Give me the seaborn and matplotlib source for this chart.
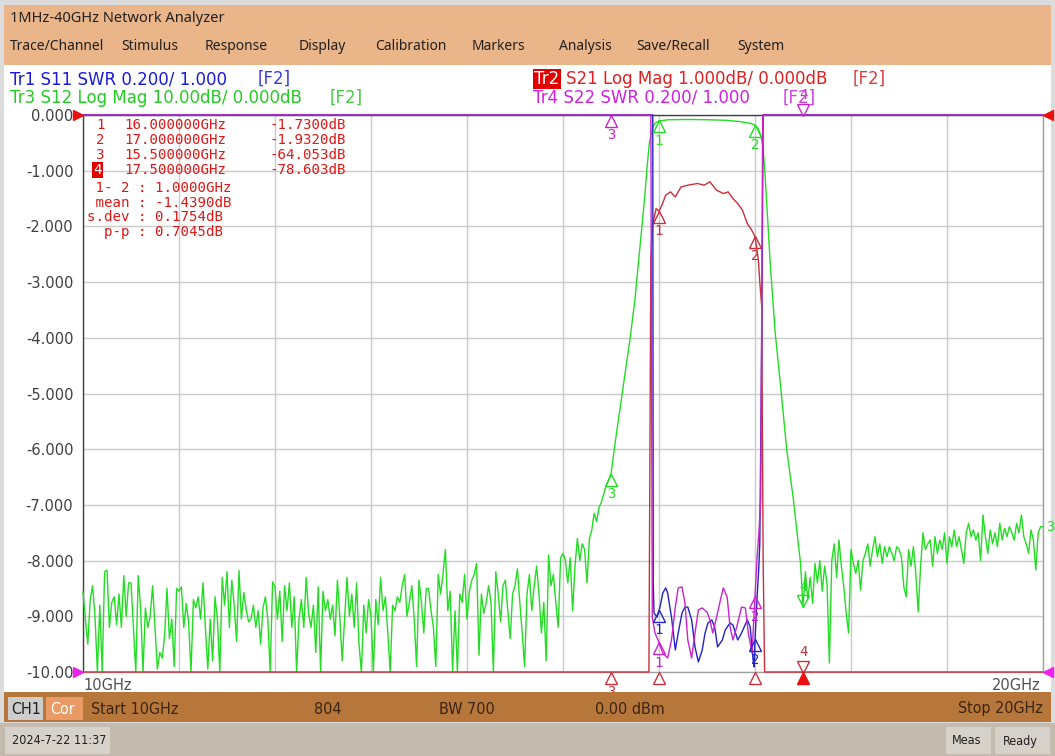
import numpy as np
import pandas as pd
import matplotlib
matplotlib.use("Agg")
import matplotlib.pyplot as plt
from matplotlib import font_manager as fm
from matplotlib.patches import Rectangle
from matplotlib.transforms import offset_copy
import seaborn as sns

sns.set_style("white")
plt.rcParams['font.family'] = ['DejaVu Sans']

# S12 noise floor, 10.000 .. 14.975 GHz, 25 MHz steps (dB)
noise_lo_db = [
    -85.6, -90.5, -95, -87, -84.5, -90, -100, -88, -101, -82,
    -81.7, -92, -87.5, -86.5, -91.5, -86, -92, -82.7, -90, -84,
    -84, -92, -101, -82.7, -88.5, -102, -88.5, -92, -90, -84.5,
    -92, -99.5, -96.5, -97.5, -93.5, -85, -94, -90.5, -99, -85,
    -85.5, -84.7, -92, -87.7, -91, -101, -87, -88.5, -86.5, -90.5,
    -84, -92, -99.5, -90.5, -98, -86.5, -90.5, -102, -83, -88,
    -82, -92, -83.5, -88, -94.5, -81.8, -90.5, -85.7, -88.8, -91,
    -90.5, -88, -92, -89, -95, -88.5, -86.5, -90.5, -102, -83.8,
    -84.7, -90.5, -85.5, -94.5, -84.5, -89, -84, -92, -86.5, -101,
    -90.5, -87, -92, -83, -89.5, -92, -88, -96.5, -84.7, -101,
    -85.5, -89, -87, -90.5, -88, -93.5, -83.5, -90, -98, -90.5,
    -83, -90, -86, -92, -84, -95, -100, -88, -93, -87,
    -90, -101, -87, -91.5, -83, -89, -86.5, -93, -101, -88,
    -89, -86.5, -87.5, -84.5, -82.5, -90, -87.5, -84.5, -90.5, -99,
    -83.5, -87.5, -93, -85, -85, -89, -92, -99, -82.5, -86,
    -82.5, -78, -89, -85.5, -101, -89, -101, -86, -87.5, -82.5,
    -90.5, -85.5, -83.5, -82.5, -80.5, -97, -86, -89.5, -87.5, -84.5,
    -87.5, -101, -82, -86, -91, -84.5, -83.5, -89, -94, -86,
    -84.5, -81.5, -87.5, -93, -99, -86, -82.5, -89, -84.5, -81,
    -86, -93, -87.5, -98, -79, -84.5, -82.5, -87.5, -92, -79.5,
]
noise_lo_freq = np.linspace(10.0, 14.975, len(noise_lo_db))

# S12 skirts and passband (GHz, dB)
edge_freq = [15.0, 15.025, 15.05, 15.075, 15.1, 15.125, 15.15, 15.175, 15.2, 15.225,
             15.25, 15.275, 15.3, 15.325, 15.35, 15.375, 15.4, 15.45, 15.5, 15.55,
             15.6, 15.65, 15.7, 15.75, 15.8, 15.85, 15.875, 15.9, 15.925, 15.95,
             16.0, 16.1, 16.3, 16.5, 16.7, 16.85, 16.95, 17.0, 17.03, 17.06,
             17.08, 17.1, 17.12, 17.16, 17.21, 17.28, 17.33, 17.4, 17.45, 17.475]
edge_db = [-78.7, -80, -84, -79.5, -89, -81, -76, -80, -77, -78,
           -84, -76, -74.5, -71.5, -73, -70.5, -69.5, -66.5, -64.5, -58,
           -52, -46, -40, -33, -24, -15, -9.5, -5, -2.8, -1.6,
           -1.05, -0.85, -0.8, -0.85, -0.95, -1.2, -1.5, -1.8, -2.4, -3.6,
           -5.5, -9.3, -15.3, -27, -39, -51, -60, -69, -76.9, -80.5]

# S12 upper stopband, 17.500 .. 20.000 GHz, 25 MHz steps (dB)
noise_hi_db = [
    -88.3, -82, -87, -83, -87.7, -80.5, -84, -80, -85.5, -81,
    -84, -98.4, -80, -77, -83, -76.3, -81, -84.7, -89.5, -93,
    -78, -80.5, -82.3, -80, -85.3, -80, -78.7, -77, -81, -78,
    -75.7, -79.3, -77, -80.5, -77.5, -79.3, -77.5, -78.7, -80, -77.5,
    -78, -79.3, -84.7, -86.5, -78, -81, -77.5, -82.3, -89.2, -81,
    -75, -78, -77, -76.3, -81, -75.7, -78.7, -76.3, -78, -75,
    -80.5, -75.7, -77.5, -74.5, -77.5, -75.7, -78, -80.5, -75, -73.3,
    -75.7, -74.5, -76.3, -75, -80, -71.8, -75.7, -78.7, -74.5, -77,
    -75, -77.5, -73.3, -76.3, -74.2, -75.7, -73.9, -75, -76.3, -73.3,
    -75, -71.8, -75.7, -77, -78.7, -74.5, -76.3, -81.7, -75, -73.9,
    -74,
]
noise_hi_freq = np.linspace(17.5, 20.0, len(noise_hi_db))

# S21 (GHz, dB)
s21_freq = [10.0, 15.5, 15.85, 15.895, 15.915, 15.93, 15.97, 16.0, 16.03, 16.07,
            16.12, 16.17, 16.23, 16.3, 16.4, 16.47, 16.53, 16.6, 16.67, 16.72,
            16.77, 16.82, 16.87, 16.92, 16.96, 17.0, 17.035, 17.05, 17.07, 17.085,
            17.1, 17.5, 20.0]
s21_db = [-95, -64.05, -25, -11, -2.54, -2.0, -1.68, -1.73, -1.62, -1.44,
          -1.38, -1.47, -1.29, -1.26, -1.23, -1.26, -1.2, -1.35, -1.41, -1.38,
          -1.5, -1.59, -1.71, -1.95, -2.05, -2.18, -2.6, -3.0, -3.44, -8,
          -14, -78.6, -75]

# S11 SWR
s11_freq = [10.0, 15.935, 15.94, 15.948, 15.98, 16.01, 16.04, 16.07, 16.09, 16.13,
            16.17, 16.2, 16.24, 16.27, 16.3, 16.34, 16.375, 16.41, 16.45, 16.48,
            16.51, 16.55, 16.58, 16.61, 16.66, 16.69, 16.74, 16.77, 16.82, 16.86,
            16.92, 16.95, 16.98, 16.99, 17.0, 17.02, 17.04, 17.05, 17.07, 17.085,
            20.0]
s11_swr = [12, 12, 1.323, 1.212, 1.197, 1.233, 1.284, 1.302, 1.284, 1.197,
           1.079, 1.140, 1.212, 1.233, 1.233, 1.187, 1.090, 1.036, 1.079, 1.140,
           1.176, 1.187, 1.162, 1.090, 1.115, 1.151, 1.176, 1.169, 1.115, 1.140,
           1.187, 1.162, 1.043, 1.018, 1.115, 1.259, 1.377, 1.463, 2.2, 12,
           12]

# S22 SWR
s22_freq = [10.0, 15.915, 15.93, 15.958, 15.99, 16.04, 16.09, 16.13, 16.17, 16.2,
            16.24, 16.27, 16.3, 16.34, 16.375, 16.41, 16.45, 16.5, 16.53, 16.56,
            16.6, 16.64, 16.67, 16.71, 16.74, 16.77, 16.81, 16.86, 16.9, 16.93,
            16.97, 16.98, 17.02, 17.04, 17.06, 17.08, 20.0]
s22_swr = [12, 12, 1.197, 1.140, 1.115, 1.068, 1.050, 1.115, 1.233, 1.302,
           1.305, 1.248, 1.115, 1.050, 1.140, 1.223, 1.230, 1.215, 1.187, 1.140,
           1.197, 1.259, 1.302, 1.269, 1.162, 1.115, 1.162, 1.233, 1.230, 1.140,
           1.068, 1.140, 1.402, 1.499, 1.618, 12, 12]

marker_freq = [16.0, 17.0, 15.5, 17.5]
marker_rows = [("1", "16.000000GHz", "-1.7300dB"),
               ("2", "17.000000GHz", "-1.9320dB"),
               ("3", "15.500000GHz", "-64.053dB"),
               ("4", "17.500000GHz", "-78.603dB")]
stats_rows = [" 1- 2 : 1.0000GHz", " mean : -1.4390dB", "s.dev : 0.1754dB", "  p-p : 0.7045dB"]
ytick_labels = ["-10.00"] + ["%.3f" % v for v in range(-9, 1)]
menu_items = [("Trace/Channel", 10), ("Stimulus", 121), ("Response", 205), ("Display", 299),
              ("Calibration", 375), ("Markers", 472), ("Analysis", 559),
              ("Save/Recall", 636), ("System", 737)]

GREEN, RED, BLUE, MAG = "#22dd22", "#c8303c", "#2222c8", "#cc22cc"

W, H = 1055, 756
fig = plt.figure(figsize=(W / 100, H / 100), dpi=100)
fig.patch.set_facecolor("#dcdcdc")


def fx(x):
    return x / W


def fy(y):
    return 1 - y / H


def box(x0, y0, x1, y1, color, z=-1):
    fig.add_artist(Rectangle((fx(x0), fy(y1)), (x1 - x0) / W, (y1 - y0) / H,
                             transform=fig.transFigure, facecolor=color,
                             edgecolor="none", zorder=z))


def label(x, y, s, **kw):
    kw.setdefault("va", "center")
    fig.text(fx(x), fy(y), s, **kw)


# pick the narrowest regular sans face available for the status bars
def narrow_font(size):
    faces = fm.fontManager.ttflist
    for want in ("Liberation Sans Narrow", "DejaVu Sans"):
        for f in faces:
            if f.name == want and f.style == "normal" and f.weight in (400, "normal") \
                    and (want.endswith("Narrow") or "condensed" in str(f.stretch)):
                return fm.FontProperties(fname=f.fname, size=size)
    return fm.FontProperties(family="Liberation Sans", size=size)


# window chrome
box(4, 5, 1051, 65, "#ebb58a")
box(4, 65, 1051, 692, "white")
box(4, 692, 1051, 722, "#b8773a", z=5)
box(8, 697, 43, 720, "#cdcdcd", z=6)
box(46, 697, 83, 720, "#ea9a64", z=6)
box(0, 723, 1055, 756, "#c3bcae", z=5)
box(5, 727, 110, 754, "#d6d2ca", z=6)
box(946, 727, 991, 754, "#d6d2ca", z=6)
box(995, 727, 1050, 754, "#d6d2ca", z=6)

ui = ["Noto Sans", "DejaVu Sans"]
label(10, 19, "1MHz-40GHz Network Analyzer", family=ui, fontsize=10.5, color="#202020")
for name, x in menu_items:
    label(x, 46, name, family=ui, fontsize=10, color="#202020")

hdr = dict(fontsize=12)
label(10, 79, "Tr1 S11 SWR 0.200/ 1.000", color="#1a1adb", **hdr)
label(258, 79, "[F2]", color="#3a3ae0", **hdr)
label(10, 98, "Tr3 S12 Log Mag 10.00dB/ 0.000dB", color="#22cc22", **hdr)
label(330, 98, "[F2]", color="#44cc44", **hdr)
label(534, 79, "Tr2", color="white", bbox=dict(facecolor="#e00000", edgecolor="none", pad=1.0), **hdr)
label(566, 79, "S21 Log Mag 1.000dB/ 0.000dB", color="#e02020", **hdr)
label(853, 79, "[F2]", color="#d84040", **hdr)
label(533, 98, "Tr4 S22 SWR 0.200/ 1.000", color="#d020e0", **hdr)
label(783, 98, "[F2]", color="#d040e0", **hdr)

sbf = narrow_font(11.5)
bbf = narrow_font(9)
sb = dict(fontproperties=sbf, color="#3a2414", zorder=7)
bb = dict(fontproperties=bbf, color="#202020", zorder=7)
label(11, 709, "CH1", **{**sb, "color": "#202020"})
label(50, 709, "Cor", **{**sb, "color": "white"})
label(91, 709, "Start 10GHz", **sb)
label(314, 709, "804", **sb)
label(439, 709, "BW 700", **sb)
label(595, 709, "0.00 dBm", **sb)
label(1043, 709, "Stop 20GHz", ha="right", **sb)
label(12, 741, "2024-7-22 11:37", **bb)
label(952, 741, "Meas", **bb)
label(1003, 741, "Ready", **bb)

# plot area
ax = fig.add_axes([fx(83), fy(672), (1043 - 83) / W, (672 - 115) / H])
ax.set_facecolor("white")
ax.set_xlim(10, 20)
ax.set_ylim(-10, 0)
ax.set_xticks(np.linspace(10, 20, 11))
ax.set_xticklabels([])
ax.set_yticks(np.arange(-10, 1, 1))
ax.set_yticklabels(ytick_labels)
ax.tick_params(axis="both", length=0)
ax.tick_params(axis="y", pad=7, labelsize=10.5, labelcolor="#404040")
ax.grid(True, color="#cbcbcb", lw=1)
ax.set_axisbelow(True)
for side, c in [("left", "#404040"), ("top", "#404040"), ("right", "#a0a0a0"), ("bottom", "#a0a0a0")]:
    ax.spines[side].set_color(c)
    ax.spines[side].set_linewidth(1)
ax.text(0.0, -0.024, "10GHz", transform=ax.transAxes, ha="left", va="center", fontsize=10.5, color="#505050")
ax.text(0.997, -0.024, "20GHz", transform=ax.transAxes, ha="right", va="center", fontsize=10.5, color="#505050")

# traces, converted to screen divisions and clamped like the analyzer does
s12_freq = np.concatenate([noise_lo_freq, edge_freq, noise_hi_freq])
s12_db = np.concatenate([noise_lo_db, edge_db, noise_hi_db])
traces = {
    "S12": (s12_freq, np.asarray(s12_db) / 10.0, GREEN),
    "S21": (np.asarray(s21_freq), np.asarray(s21_db), RED),
    "S11": (np.asarray(s11_freq), (np.asarray(s11_swr) - 1) / 0.2 - 10, BLUE),
    "S22": (np.asarray(s22_freq), (np.asarray(s22_swr) - 1) / 0.2 - 10, MAG),
}
for name, (f, d, c) in traces.items():
    df = pd.DataFrame({"freq": f, "div": np.clip(d, -10, 0)})
    sns.lineplot(data=df, x="freq", y="div", ax=ax, color=c, lw=1.0,
                 estimator=None, sort=False, clip_on=False, zorder=3)
ax.set_xlabel("")
ax.set_ylabel("")


def value_at(name, f):
    fr, d, _ = traces[name]
    return float(np.clip(np.interp(f, fr, d), -10, 0))


def tri(f, v, color, num=None, up=True, filled=False):
    s = 1 if up else -1
    tr = offset_copy(ax.transData, fig=fig, x=0, y=-5.5 * s, units="dots")
    ax.plot([f], [v], marker="^" if up else "v", ms=8, mec=color,
            mfc=color if filled else "none", mew=1, transform=tr,
            clip_on=False, zorder=6)
    if num:
        tr2 = offset_copy(ax.transData, fig=fig, x=0, y=-20 * s, units="dots")
        ax.text(f, v, num, transform=tr2, ha="center", va="center", color=color,
                fontsize=10, family="DejaVu Sans Mono", clip_on=False, zorder=6)


for name, c in [("S12", GREEN), ("S21", RED), ("S11", BLUE), ("S22", MAG)]:
    for i, f in enumerate(marker_freq):
        num = str(i + 1)
        if name == "S11" and i >= 2:
            continue
        tri(f, value_at(name, f), c, num, up=(i != 3))
# stimulus indicators on the bottom edge
tri(16.0, -10, RED)
tri(17.0, -10, RED)
tri(17.5, -10, "#ee1010", filled=True)

# reference position arrows
for y0, c in [(0, "#ee1010"), (-10, "#ee22ee")]:
    trl = offset_copy(ax.transData, fig=fig, x=-5, y=0, units="dots")
    ax.plot([10], [y0], marker=">", ms=7, color=c, transform=trl, clip_on=False, zorder=6)
    trr = offset_copy(ax.transData, fig=fig, x=5, y=0, units="dots")
    ax.plot([20], [y0], marker="<", ms=7, color=c, transform=trr, clip_on=False, zorder=6)
ax.text(20.03, value_at("S12", 20.0), "3", color=GREEN, fontsize=10,
        family="DejaVu Sans Mono", va="center", ha="left", clip_on=False)

# marker readout
mono = dict(family="DejaVu Sans Mono", fontsize=10.2, color="#e01818")
for k, (n, fq, val) in enumerate(marker_rows):
    y = 125 + 15 * k
    if k == 3:
        label(93, y, n, **{**mono, "color": "white"},
              bbox=dict(facecolor="#e00000", edgecolor="none", pad=0.8))
    else:
        label(96, y, n, **mono)
    label(124, y, fq, **mono)
    label(269, y, val, **mono)
for k, s in enumerate(stats_rows):
    label(87, 188 + 14.7 * k, s, **mono)

fig.savefig("out.png", dpi=100)
